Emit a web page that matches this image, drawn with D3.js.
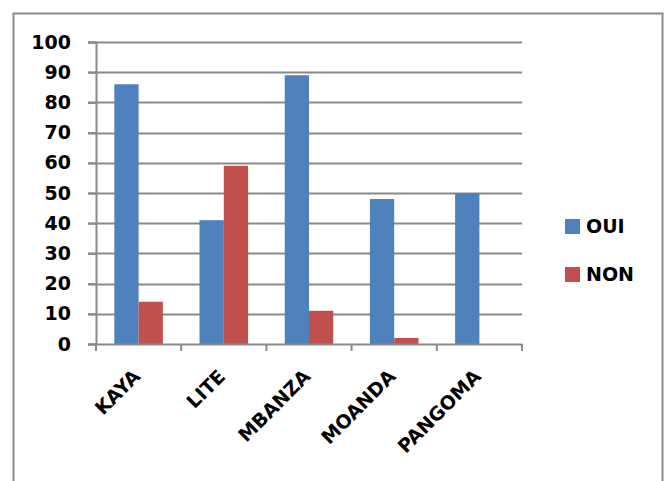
<!DOCTYPE html>
<html><head><meta charset="utf-8">
<script src="https://cdn.jsdelivr.net/npm/d3@7"></script>
<style>body{margin:0;background:#fff}svg{display:block}</style>
</head><body>
<script>
const categories = ["KAYA","LITE","MBANZA","MOANDA","PANGOMA"];
const seriesNames = ["OUI","NON"];
const oui = [86,41,89,48,50];
const non = [14,59,11,2,0];
const yTicks = [0,10,20,30,40,50,60,70,80,90,100];
const colors = ["#4F81BD","#C0504D"];

(function(){
const W=667,H=481;
const svg=d3.select("body").append("svg").attr("width",W).attr("height",H);
svg.append("rect").attr("width",W).attr("height",H).attr("fill","#fff");
svg.append("rect").attr("x",13.5).attr("y",13.5).attr("width",649).attr("height",520)
  .attr("fill","none").attr("stroke","#8a8a8a").attr("stroke-width",2);

const pLeft=96,pRight=522,pTop=42,pBottom=344;
const y=d3.scaleLinear().domain([0,100]).range([pBottom,pTop]);
const x0=d3.scaleBand().domain(categories).range([pLeft,pRight]).paddingInner(0.43).paddingOuter(0.215);
const x1=d3.scaleBand().domain(seriesNames).range([0,x0.bandwidth()]);
const step=x0.step();
const font="'DejaVu Sans', sans-serif";

// gridlines
svg.append("g").selectAll("line").data(yTicks.filter(d=>d>0)).join("line")
  .attr("x1",pLeft-8).attr("x2",pRight).attr("y1",d=>Math.round(y(d))+0.5).attr("y2",d=>Math.round(y(d))+0.5)
  .attr("stroke","#8a8a8a").attr("stroke-width",2);

// y axis
const ya=svg.append("g").attr("transform",`translate(${pLeft},0)`)
  .call(d3.axisLeft(y).tickValues(yTicks).tickSize(8).tickPadding(17));
ya.select(".domain").attr("stroke","#8a8a8a").attr("stroke-width",2);
ya.selectAll(".tick line").attr("stroke","#8a8a8a").attr("stroke-width",2);
ya.selectAll("text").attr("font-family",font).attr("font-weight","bold").attr("font-size",19).attr("fill","#000");

// bars
const data=categories.map((c,i)=>({c,vals:[oui[i],non[i]]}));
const g=svg.append("g");
data.forEach(d=>{
  g.append("g").selectAll("rect").data(seriesNames.map((s,j)=>({s,v:d.vals[j],j}))).join("rect")
    .attr("x",e=>x0(d.c)+x1(e.s)).attr("width",x1.bandwidth())
    .attr("y",e=>y(e.v)).attr("height",e=>y(0)-y(e.v))
    .attr("fill",e=>colors[e.j]);
});

// x axis
const bounds=categories.map(c=>x0(c)-x0.paddingOuter()*step).concat([pRight]);
svg.append("line").attr("x1",pLeft-8).attr("x2",pRight).attr("y1",pBottom+0.5).attr("y2",pBottom+0.5)
  .attr("stroke","#8a8a8a").attr("stroke-width",2);
svg.append("g").selectAll("line").data(bounds).join("line")
  .attr("x1",d=>d).attr("x2",d=>d).attr("y1",pBottom).attr("y2",pBottom+7)
  .attr("stroke","#8a8a8a").attr("stroke-width",2);
svg.append("g").selectAll("text").data(categories).join("text")
  .attr("transform",c=>`translate(${x0(c)+x0.bandwidth()/2-2},${pBottom+29}) rotate(-45)`)
  .attr("text-anchor","end").attr("dy","0.35em")
  .attr("font-family",font).attr("font-weight","bold").attr("font-size",19).attr("fill","#000")
  .text(c=>c);

// legend
const lg=svg.append("g");
seriesNames.forEach((s,i)=>{
  lg.append("rect").attr("x",565).attr("y",219+i*48).attr("width",15).attr("height",15).attr("fill",colors[i]);
  lg.append("text").attr("x",586).attr("y",226.5+i*48).attr("dy","0.36em")
    .attr("font-family",font).attr("font-weight","bold").attr("font-size",19).attr("fill","#000").text(s);
});
})();
</script>
</body></html>
